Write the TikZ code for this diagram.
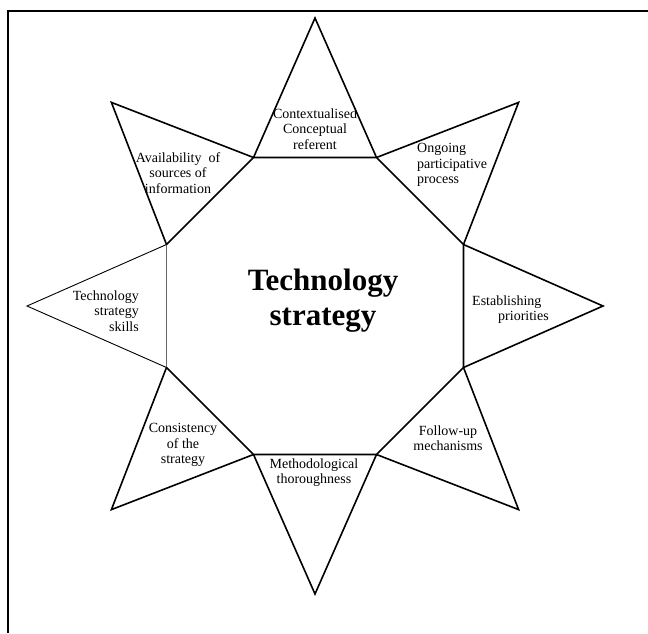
\documentclass[tikz,border=0pt]{standalone}
\usepackage{fontspec}
\setmainfont{Liberation Serif}
\begin{document}
\begin{tikzpicture}[x=1pt,y=-1pt,
  frame/.style={line width=2pt},
  edge/.style={line width=1.6pt, line join=miter},
  thinedge/.style={line width=0.9pt, line join=miter},
  greyedge/.style={line width=0.9pt, draw=black!60},
  lbl/.style={font=\fontsize{14}{15.5}\selectfont, inner sep=0pt},
  title/.style={font=\bfseries\fontsize{31}{35}\selectfont, inner sep=0pt, align=center}
]
\useasboundingbox (0,0) rectangle (648,633);

% open frame: top and left sides only
\coordinate (fa) at (8,633);
\coordinate (fb) at (8,11);
\coordinate (fc) at (648,11);
\draw[frame] (fa) -- (fb) -- (fc);

% octagon around the centre (315,306)
\coordinate (o1) at (376.5,157.5);
\coordinate (o2) at (463.5,244.5);
\coordinate (o3) at (463.5,367.5);
\coordinate (o4) at (376.5,454.5);
\coordinate (o5) at (253.5,454.5);
\coordinate (o6) at (166.5,367.5);
\coordinate (o7) at (166.5,244.5);
\coordinate (o8) at (253.5,157.5);

% star tips
\coordinate (pN)  at (315,18);
\coordinate (pNE) at (518.6,102.4);
\coordinate (pE)  at (603,306);
\coordinate (pSE) at (518.6,509.6);
\coordinate (pS)  at (315,594);
\coordinate (pSW) at (111.4,509.6);
\coordinate (pW)  at (27,306);
\coordinate (pNW) at (111.4,102.4);

% octagon sides
\draw[edge] (o6) -- (o5) -- (o4) -- (o3) -- (o2) -- (o1) -- (o8) -- (o7);
\draw[greyedge] (o7) -- (o6);

% star points
\draw[edge] (o8) -- (pN) -- (o1);
\draw[edge] (o1) -- (pNE) -- (o2);
\draw[edge] (o2) -- (pE) -- (o3);
\draw[edge] (o3) -- (pSE) -- (o4);
\draw[edge] (o4) -- (pS) -- (o5);
\draw[edge] (o5) -- (pSW) -- (o6);
\draw[thinedge] (o6) -- (pW) -- (o7);
\draw[edge] (o7) -- (pNW) -- (o8);

% centre title
\node[title] (ttl) at (323,301) {Technology\\strategy};

% labels of the points
\node[lbl, align=center] (ctx) at (315,129) {Contextualised\\Conceptual\\referent};
\node[lbl, align=left, anchor=west] (ong) at (417,165) {Ongoing\\participative\\process};
\node[lbl, align=left, anchor=west] (est) at (472,309.5) {Establishing\\\hspace*{26pt}priorities};
\node[lbl, align=center] (fol) at (448,438) {Follow-up\\mechanisms};
\node[lbl, align=center] (met) at (314,472.5) {Methodological\\thoroughness};
\node[lbl, align=center] (con) at (183,445) {Consistency\\of the\\strategy};
\node[lbl, align=right, anchor=east] (ski) at (139,311) {Technology\\strategy\\skills};
\node[lbl, align=center] (ava) at (178,173) {Availability\ \ of\\sources of\\information};
\end{tikzpicture}
\end{document}
